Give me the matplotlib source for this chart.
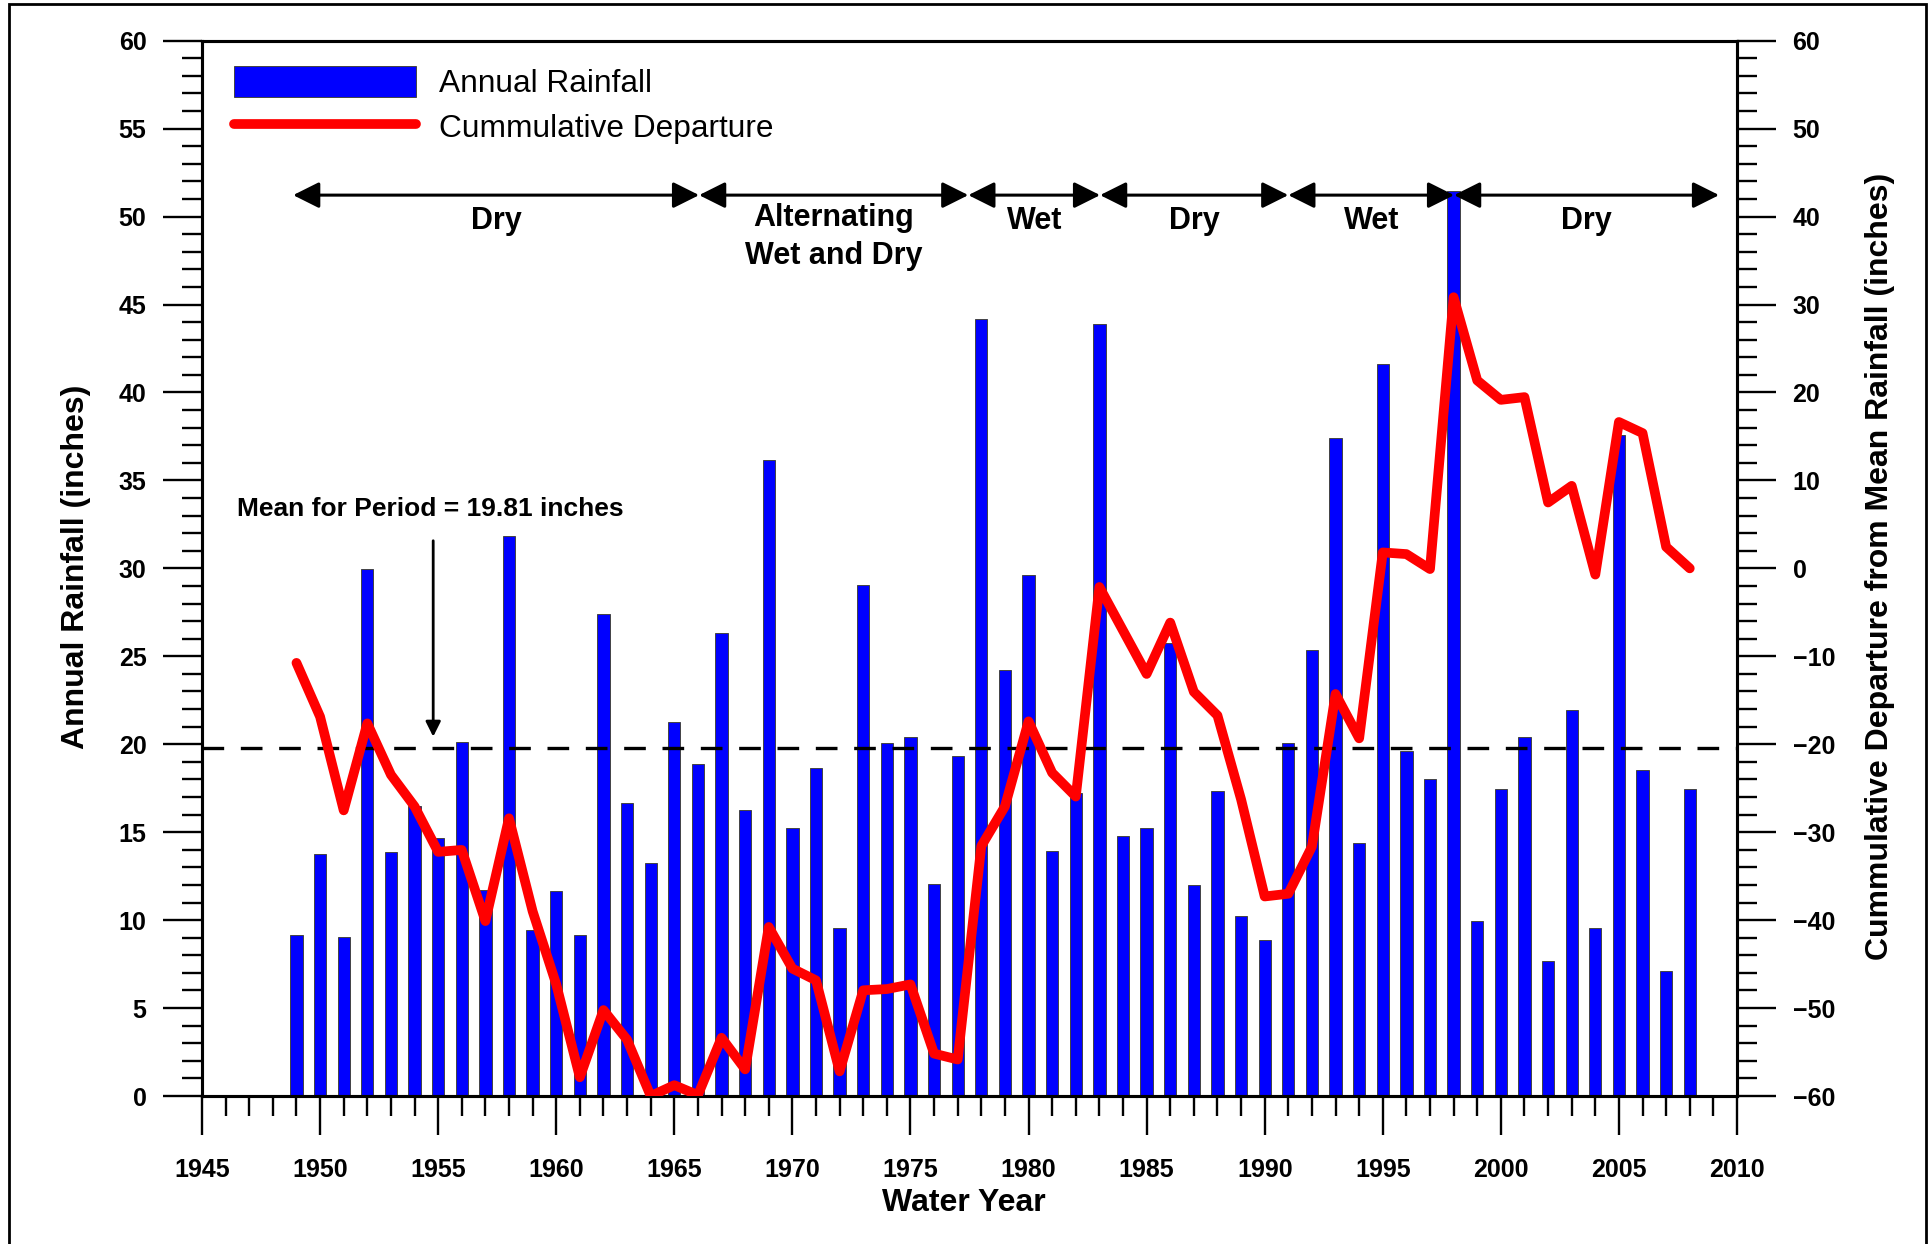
import matplotlib
matplotlib.use('Agg')
import matplotlib.pyplot as plt
from matplotlib.patches import Rectangle
from matplotlib.ticker import MultipleLocator

plt.rcParams['font.family'] = ['Liberation Sans', 'DejaVu Sans']
plt.rcParams['font.weight'] = 'bold'

# Annual rainfall by water year (inches)
years = list(range(1949, 2009))
rain = [9.15, 13.76, 9.05, 29.99, 13.88, 16.46, 14.66, 20.15, 11.69, 31.84,
        9.45, 11.65, 9.18, 27.38, 16.64, 13.27, 21.25, 18.85, 26.30, 16.24,
        36.17, 15.25, 18.66, 9.56, 29.07, 20.08, 20.42, 12.06, 19.34, 44.16,
        24.22, 29.64, 13.95, 17.22, 43.88, 14.78, 15.25, 25.77, 11.97, 17.32,
        10.23, 8.88, 20.08, 25.38, 37.43, 14.40, 41.60, 19.64, 18.03, 51.45,
        9.95, 17.46, 20.40, 7.65, 21.94, 9.54, 37.56, 18.53, 7.08, 17.46]

# Cumulative departure from the period mean (inches)
cum_departure = [-10.75, -16.87, -27.52, -17.63, -23.47, -27.07, -32.24, -32.02, -40.11, -28.42,
                 -38.99, -47.3, -57.87, -50.23, -53.6, -60.0, -58.77, -59.9, -53.38, -56.97,
                 -40.78, -45.51, -46.85, -57.2, -47.98, -47.84, -47.31, -55.18, -55.85, -31.58,
                 -27.07, -17.4, -23.25, -25.95, -2.12, -7.07, -12.01, -6.17, -14.04, -16.73,
                 -26.27, -37.31, -37.0, -31.64, -14.29, -19.33, 1.81, 1.62, -0.08, 30.83,
                 21.37, 19.16, 19.47, 7.49, 9.38, -0.71, 16.64, 15.38, 2.44, 0.0]

mean_rain = 19.81

# Wet / dry periods: boundaries (water year) and names
period_edges = [1948.86, 1966.05, 1977.45, 1983.03, 1991.0, 1998.02, 2009.24]
period_names = ['Dry', 'Alternating\nWet and Dry', 'Wet', 'Dry', 'Wet', 'Dry']
period_y = 51.22
period_text_y = [49.75, 48.85, 49.75, 49.75, 49.75, 49.75]

fig = plt.figure(figsize=(19.33, 12.44), dpi=100)
ax = fig.add_axes([202 / 1933, 1 - 1096 / 1244, 1535 / 1933, 1055.3 / 1244])
ax2 = ax.twinx()

# bars
bars = ax.bar(years, rain, width=0.52, color='#0000ff', edgecolor='#444444',
              linewidth=0.7, zorder=2)

# mean line
ax.axhline(mean_rain, color='k', lw=2.4, dashes=(6.5, 5), zorder=3)

# cumulative departure
line, = ax2.plot(years, cum_departure, color='#ff0000', lw=7,
                 solid_joinstyle='round', solid_capstyle='round', zorder=4)

ax.set_xlim(1945, 2010)
ax.set_ylim(0, 60)
ax2.set_ylim(-60, 60)

ax.xaxis.set_major_locator(MultipleLocator(5))
ax.xaxis.set_minor_locator(MultipleLocator(1))
ax.yaxis.set_major_locator(MultipleLocator(5))
ax.yaxis.set_minor_locator(MultipleLocator(1))
ax2.yaxis.set_major_locator(MultipleLocator(10))
ax2.yaxis.set_minor_locator(MultipleLocator(2))

ax.tick_params(axis='x', which='major', direction='out', length=28, width=1.7,
               labelsize=18, pad=16.5, top=False)
ax.tick_params(axis='x', which='minor', direction='out', length=14.4, width=1.7, top=False)
ax.tick_params(axis='y', which='major', direction='out', length=28, width=1.7,
               labelsize=18, pad=12, right=False)
ax.tick_params(axis='y', which='minor', direction='out', length=14.4, width=1.7, right=False)
ax2.tick_params(axis='y', which='major', direction='out', length=28, width=1.7,
                labelsize=18, pad=12)
ax2.tick_params(axis='y', which='minor', direction='out', length=14.4, width=1.7)

for a in (ax, ax2):
    for s in a.spines.values():
        s.set_linewidth(2.2)

# period arrows
for i, name in enumerate(period_names):
    x0, x1 = period_edges[i], period_edges[i + 1]
    ax.annotate('', xy=(x1, period_y), xytext=(x0, period_y),
                arrowprops=dict(arrowstyle='<|-|>,head_length=0.8,head_width=0.4',
                                mutation_scale=20, lw=2.2, color='k',
                                shrinkA=0, shrinkB=0), zorder=6)
    ax.text((x0 + x1) / 2, period_text_y[i], name, ha='center', va='center',
            fontsize=22, fontweight='bold', linespacing=1.35, zorder=6)

# mean label and pointer
ax.text(1954.65, 33.4, 'Mean for Period = 19.81 inches', ha='center', va='center',
        fontsize=19, fontweight='bold', zorder=6)
ax.annotate('', xy=(1954.79, 20.43), xytext=(1954.79, 31.57),
            arrowprops=dict(arrowstyle='-|>,head_length=0.6,head_width=0.3',
                            mutation_scale=15, lw=2, color='k',
                            shrinkA=0, shrinkB=0), zorder=6)

ax2.legend([bars, line], ['Annual Rainfall', 'Cummulative Departure'],
           loc='upper left', bbox_to_anchor=(0.0208, 0.976), frameon=False,
           prop={'size': 22.8, 'weight': 'normal'}, handlelength=5.75,
           handleheight=1.13, handletextpad=0.72, labelspacing=0.36,
           borderpad=0, borderaxespad=0)

fig.text(0.0395, 0.5442, 'Annual Rainfall (inches)', rotation=90, ha='center',
         va='center', fontsize=23, fontweight='bold')
fig.text(0.9726, 0.545, 'Cummulative Departure from Mean Rainfall (inches)',
         rotation=90, ha='center', va='center', fontsize=23, fontweight='bold')
fig.text(0.4985, 0.0328, 'Water Year', ha='center', va='center',
         fontsize=23, fontweight='bold')

# outer frame
fig.patches.append(Rectangle((9 / 1933, -0.01), 1917 / 1933, 1.01 - 4 / 1244,
                             fill=False, lw=2.0, edgecolor='k',
                             transform=fig.transFigure, figure=fig))

fig.savefig('out.png', dpi=100)
